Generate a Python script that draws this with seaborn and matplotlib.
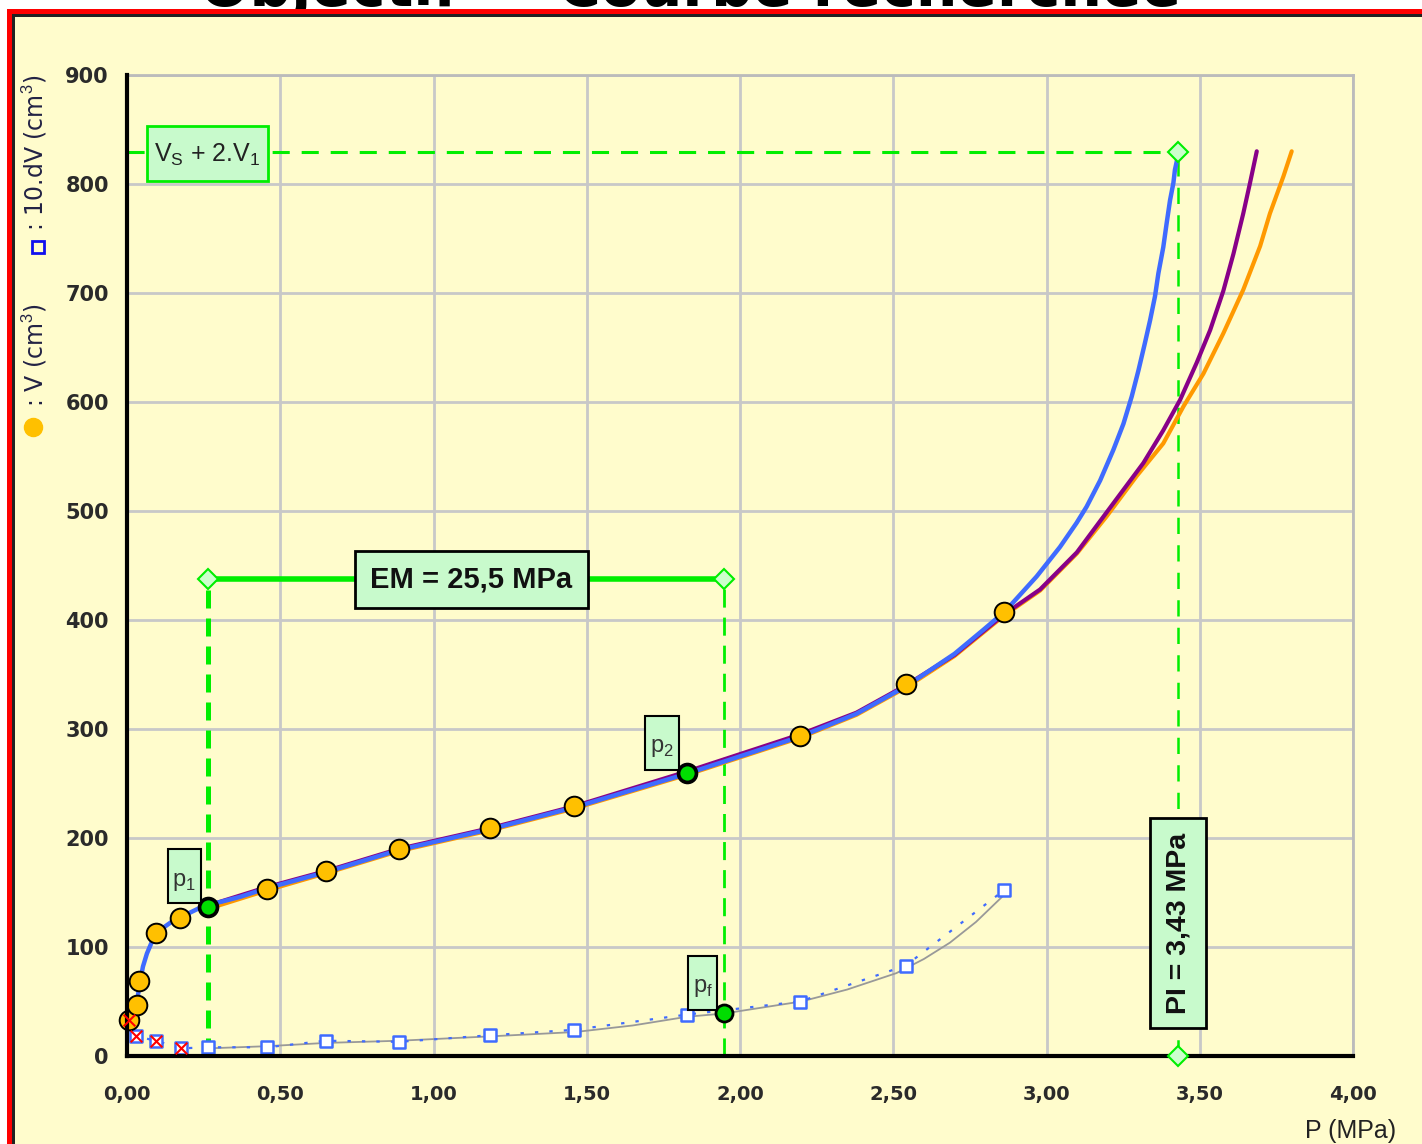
import numpy as np
import pandas as pd
import matplotlib
matplotlib.use("Agg")
import matplotlib.pyplot as plt
import seaborn as sns
from matplotlib.patches import Rectangle
from matplotlib.lines import Line2D

# ---------------- data ----------------
# measured points: V (cm3)
p_meas = [0.007, 0.033, 0.039, 0.095, 0.173, 0.264, 0.457, 0.649, 0.887, 1.184, 1.458, 1.827, 2.196, 2.541, 2.861]
v_meas = [33, 47, 69, 113, 127, 137, 153, 170, 190, 209, 229, 260, 294, 341, 407]

# measured points: 10.dV (cm3)
p_dv = [0.007, 0.030, 0.095, 0.176, 0.264, 0.457, 0.649, 0.887, 1.184, 1.458, 1.827, 2.196, 2.541, 2.861]
dv = [33, 18, 14, 7, 8, 8, 14, 13, 19, 24, 38, 50, 83, 152]

# excluded points (red crosses)
p_excl = [0.007, 0.030, 0.095, 0.176]
v_excl = [33, 18, 14, 7]

# fitted creep curve (grey)
p_fit_dv = [0.264, 0.457, 0.649, 0.887, 1.184, 1.462, 1.650, 1.827, 1.948, 2.200, 2.350, 2.510,
            2.600, 2.685, 2.770, 2.855]
v_fit_dv = [7, 9, 12, 14, 18, 22, 28, 36, 39, 50, 61, 76, 89, 104, 123, 146]

# fitted pressuremeter curves
p_blue = [0.0, 0.016, 0.033, 0.042, 0.052, 0.065, 0.080, 0.098, 0.110, 0.130, 0.150, 0.180, 0.238,
          0.300, 0.369, 0.457, 0.653, 0.887, 1.184, 1.458, 1.827, 2.196, 2.380, 2.541, 2.700, 2.794,
          2.865, 2.968, 3.044, 3.098, 3.131, 3.175, 3.218, 3.251, 3.278, 3.300, 3.321, 3.338, 3.354,
          3.365, 3.381, 3.392, 3.403, 3.414, 3.419, 3.426]
v_blue = [26, 33, 51, 67, 82, 94, 104, 113, 116, 120, 124, 128, 136,
          141, 146, 154, 169, 189, 208, 228, 259, 293, 314, 339, 369, 391,
          408, 440, 467, 489, 504, 528, 556, 580, 605, 629, 654, 675, 697,
          718, 742, 764, 785, 801, 813, 822]

p_purple = [0.264, 0.457, 0.653, 0.887, 1.184, 1.458, 1.827, 2.196, 2.380, 2.541, 2.700, 2.861, 2.979,
            3.099, 3.218, 3.316, 3.381, 3.436, 3.490, 3.534, 3.577, 3.610, 3.642, 3.664, 3.686]
v_purple = [138, 155, 170, 190, 209, 229, 261, 295, 315, 340, 368, 405, 428,
            462, 507, 544, 574, 602, 636, 666, 702, 736, 773, 801, 830]

p_orange = [0.264, 0.457, 0.653, 0.887, 1.184, 1.458, 1.827, 2.196, 2.380, 2.541, 2.700, 2.861, 2.979,
            3.099, 3.196, 3.294, 3.381, 3.447, 3.512, 3.577, 3.642, 3.697, 3.729, 3.773, 3.800]
v_orange = [135, 152, 168, 188, 207, 227, 258, 292, 313, 338, 367, 404, 427,
            461, 495, 532, 562, 596, 626, 663, 703, 743, 773, 807, 830]

# characteristic points
p_chars = [0.264, 1.827, 1.948]
v_chars = [137, 260, 39]
char_labels = ["p$_\\mathregular{1}$", "p$_\\mathregular{2}$", "p$_\\mathregular{f}$"]

P1, P2_EM = 0.264, 1.948
V_EM = 438
PL = 3.43
V_LIM = 829
EM_TEXT = "EM = 25,5 MPa"
PL_TEXT = "PI = 3,43 MPa"
VS_TEXT = "V$_\\mathregular{S}$ + 2.V$_\\mathregular{1}$"

x_ticks = [0, 0.5, 1.0, 1.5, 2.0, 2.5, 3.0, 3.5, 4.0]
x_ticklabels = ["0,00", "0,50", "1,00", "1,50", "2,00", "2,50", "3,00", "3,50", "4,00"]
y_ticks = [0, 100, 200, 300, 400, 500, 600, 700, 800, 900]

# ---------------- style ----------------
W, H = 1422, 1144
DPI = 100
BG = "#FFFCCC"
GREEN = "#00EE00"
BOXFC = "#C8FACC"
BLUE = "#3F6BFF"

sns.set_style("white")
plt.rcParams["font.family"] = ["DejaVu Sans"]
plt.rcParams["mathtext.fontset"] = "custom"
plt.rcParams["mathtext.rm"] = "Liberation Sans"

fig = plt.figure(figsize=(W / DPI, H / DPI), dpi=DPI, facecolor="white")

def fx(px):
    return px / W

def fy(py):
    return 1 - py / H

# cut-off title (behind the frame)
fig.text(fx(691), fy(6), "Objectif — Courbe recherchée", ha="center", va="baseline",
         fontsize=42, fontweight="heavy", color="black", zorder=-30)

# frame: red, then black, then yellow
fig.patches.append(Rectangle((fx(7), fy(H + 20)), 2, fy(9) - fy(H + 20), transform=fig.transFigure,
                             facecolor="#FF0000", edgecolor="none", zorder=-20))
fig.patches.append(Rectangle((fx(12), fy(H + 20)), 2, fy(14) - fy(H + 20), transform=fig.transFigure,
                             facecolor="#222222", edgecolor="none", zorder=-19))
fig.patches.append(Rectangle((fx(15), fy(H + 20)), 2, fy(17) - fy(H + 20), transform=fig.transFigure,
                             facecolor=BG, edgecolor="none", zorder=-18))

ax = fig.add_axes([fx(127), fy(1056), fx(1353) - fx(127), fy(75) - fy(1056)])
ax.set_zorder(5)
ax.set_facecolor(BG)
ax.set_xlim(0, 4)
ax.set_ylim(0, 900)

ax.set_xticks(x_ticks)
ax.set_xticklabels(x_ticklabels)
ax.set_yticks(y_ticks)
ax.set_yticklabels([str(v) for v in y_ticks])
ax.grid(True, color="#C8C8C8", lw=2.0, zorder=0)
ax.set_axisbelow(True)
for s in ["left", "bottom"]:
    ax.spines[s].set_color("black")
    ax.spines[s].set_linewidth(3)
    ax.spines[s].set_zorder(6)
for s in ["top", "right"]:
    ax.spines[s].set_color("#BBBBBB")
    ax.spines[s].set_linewidth(2)
ax.tick_params(axis="both", direction="out", length=7, width=3, color="black")
ax.tick_params(axis="x", pad=14, labelsize=14, labelcolor="#2a2a2a")
ax.tick_params(axis="y", pad=6, labelsize=15, labelcolor="#2a2a2a")
for lab in ax.get_xticklabels() + ax.get_yticklabels():
    lab.set_fontweight("bold")

# ----- fitted curves -----
df_o = pd.DataFrame({"P": p_orange, "V": v_orange})
df_p = pd.DataFrame({"P": p_purple, "V": v_purple})
df_b = pd.DataFrame({"P": p_blue, "V": v_blue})
sns.lineplot(data=df_o, x="P", y="V", ax=ax, color="#FF9900", lw=3, estimator=None, sort=False, zorder=3)
sns.lineplot(data=df_p, x="P", y="V", ax=ax, color="#880088", lw=3, estimator=None, sort=False, zorder=3)
sns.lineplot(data=df_b, x="P", y="V", ax=ax, color=BLUE, lw=3.2, estimator=None, sort=False, zorder=4)

# creep curves
df_fit = pd.DataFrame({"P": p_fit_dv, "V": v_fit_dv})
sns.lineplot(data=df_fit, x="P", y="V", ax=ax, color="#999999", lw=1.3, estimator=None, sort=False, zorder=3)
df_dv = pd.DataFrame({"P": p_dv, "V": dv})
sns.lineplot(data=df_dv, x="P", y="V", ax=ax, color=BLUE, lw=1.6, estimator=None, sort=False,
             linestyle=(0, (1.5, 5)), zorder=3)

# ----- green construction lines -----
ax.plot([P1, P1], [0, V_EM], color=GREEN, lw=3.6, linestyle=(0, (3.6, 2.0)), zorder=2)
ax.plot([P2_EM, P2_EM], [0, V_EM], color=GREEN, lw=2.0, linestyle=(0, (6.5, 3.6)), zorder=2)
ax.plot([P1, P2_EM], [V_EM, V_EM], color=GREEN, lw=4, zorder=2)
ax.plot([0, PL], [V_LIM, V_LIM], color=GREEN, lw=2.2, linestyle=(0, (5.6, 3.9)), zorder=2)
ax.plot([PL, PL], [0, V_LIM], color=GREEN, lw=1.8, linestyle=(0, (6.5, 4.5)), zorder=2)
ax.plot([P1, P2_EM, PL, PL], [V_EM, V_EM, V_LIM, 0], linestyle="none", marker="D", ms=10,
        mfc="#CCFFCC", mec=GREEN, mew=1.5, zorder=7, clip_on=False)

# ----- points -----
sns.scatterplot(x=p_dv, y=dv, ax=ax, marker="s", s=85, color="white", edgecolor=BLUE,
                linewidth=1.8, zorder=5)
sns.scatterplot(x=p_meas, y=v_meas, ax=ax, marker="o", s=200, color="#FFC000", edgecolor="black",
                linewidth=1.4, zorder=6, clip_on=False)
sns.scatterplot(x=p_excl, y=v_excl, ax=ax, marker="x", s=70, color="#FF0000", linewidth=1.5,
                zorder=7, clip_on=False)
sns.scatterplot(x=p_chars, y=v_chars, ax=ax, marker="o", s=150, color="#00DD00", edgecolor="black",
                linewidth=2, zorder=8)

# ----- label boxes -----
def px2P(px):
    return (px - 127) / 306.5

def py2V(py):
    return (1056 - py) / 1.09

def box(x0, y0, x1, y1, ec="black", lw=1.5):
    r = Rectangle((px2P(x0), py2V(y1)), px2P(x1) - px2P(x0), py2V(y0) - py2V(y1),
                  facecolor=BOXFC, edgecolor=ec, lw=lw, zorder=9)
    ax.add_patch(r)

box(168, 849, 201, 903)
ax.text(px2P(184), py2V(882), char_labels[0], fontsize=17, ha="center", va="center",
        color="#333333", family="Liberation Sans", zorder=10)
box(645, 716, 679, 770)
ax.text(px2P(662), py2V(748), char_labels[1], fontsize=17, ha="center", va="center",
        color="#333333", family="Liberation Sans", zorder=10)
box(688, 956, 717, 1010)
ax.text(px2P(703), py2V(988), char_labels[2], fontsize=17, ha="center", va="center",
        color="#333333", family="Liberation Sans", zorder=10)

box(147, 126, 268, 181, ec=GREEN, lw=2)
ax.text(px2P(207), py2V(155), VS_TEXT, fontsize=18, ha="center", va="center",
        color="#222222", family="Liberation Sans", zorder=10)

box(355, 551, 588, 608, lw=2)
ax.text(px2P(471), py2V(580), EM_TEXT, fontsize=21, fontweight="bold", ha="center", va="center",
        color="#111111", family="Liberation Sans", zorder=10)

box(1150, 818, 1206, 1028, lw=2)
ax.text(px2P(1178), py2V(923), PL_TEXT, fontsize=20.5, fontweight="bold", ha="center", va="center",
        rotation=90, color="#111111", family="Liberation Sans", zorder=10)

# ----- axis labels -----
fig.text(fx(1305), fy(1138), "P (MPa)", ha="left", va="baseline", fontsize=18,
         family="Liberation Sans", color="#222222")

fig.add_artist(Line2D([fx(33)], [fy(427)], marker="o", ms=13, mfc="#FFC000", mec="#FFC000",
                      transform=fig.transFigure, linestyle="none"))
fig.text(fx(35), fy(407), ": V (cm$^3$)", rotation=90, ha="center", va="bottom", fontsize=17,
         color="#222244")
fig.add_artist(Line2D([fx(38)], [fy(247)], marker="s", ms=9, mfc="none", mec="#1010EE", mew=2,
                      transform=fig.transFigure, linestyle="none"))
fig.text(fx(35), fy(231), ": 10.dV (cm$^3$)", rotation=90, ha="center", va="bottom", fontsize=17,
         color="#222244")

ax.set_xlabel("")
ax.set_ylabel("")
if ax.get_legend() is not None:
    ax.get_legend().remove()

fig.savefig("out.png", dpi=DPI, facecolor="white")
